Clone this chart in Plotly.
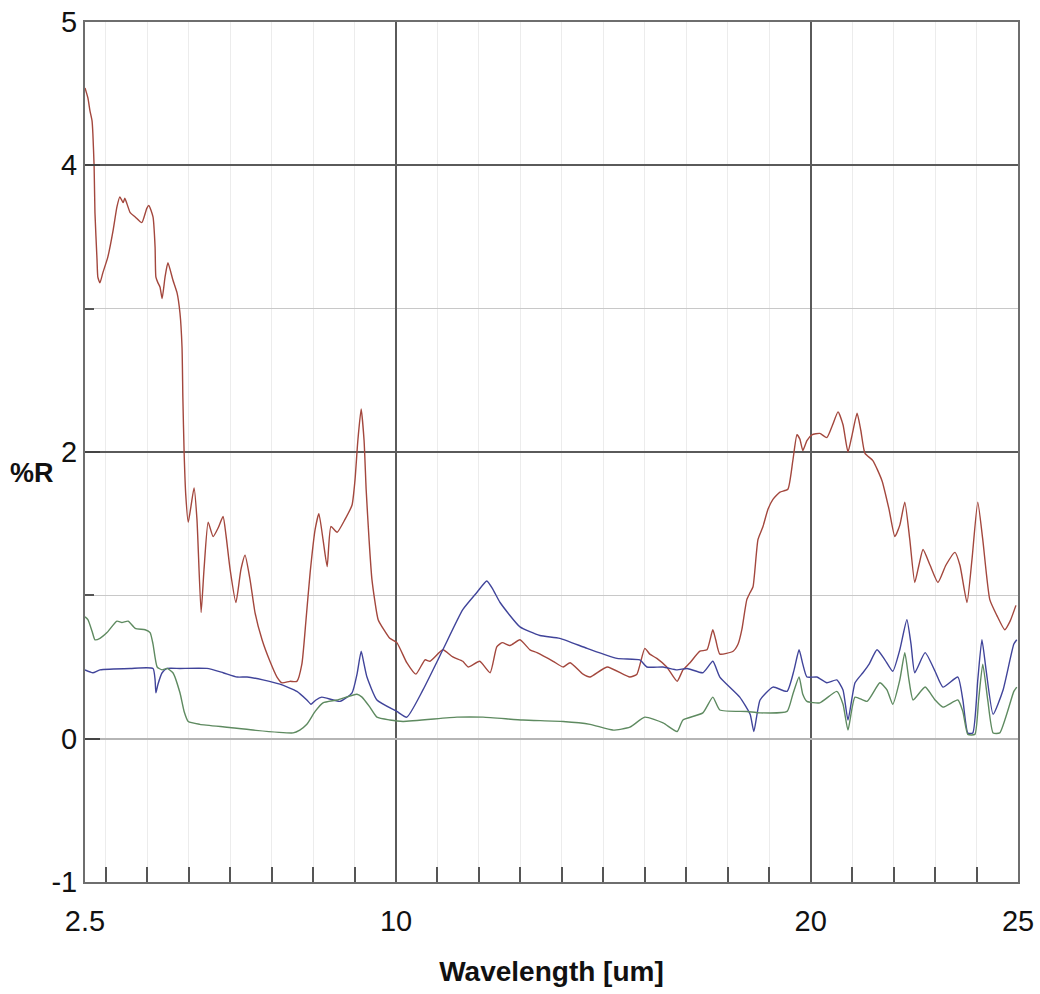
import plotly.graph_objects as go

# Reflectance spectra, wavelength in micrometres, %R
red_wl = [2.50, 2.57, 2.62, 2.67, 2.69, 2.72, 2.74, 2.79, 2.81, 2.86, 2.93, 3.05, 3.18, 3.27, 3.34, 3.42, 3.46,
          3.59, 3.71, 3.87, 3.99, 4.04, 4.14, 4.19, 4.21, 4.26, 4.31, 4.36, 4.43, 4.50, 4.62, 4.72, 4.79, 4.84,
          4.86, 4.89, 4.93, 4.99, 5.06, 5.13, 5.20, 5.30, 5.37, 5.47, 5.59, 5.71, 5.83, 5.90, 6.00, 6.14, 6.26,
          6.36, 6.48, 6.60, 6.77, 6.96, 7.13, 7.25, 7.44, 7.61, 7.73, 7.83, 7.93, 8.05, 8.14, 8.24, 8.34, 8.43,
          8.58, 8.77, 8.94, 9.01, 9.08, 9.16, 9.23, 9.28, 9.35, 9.42, 9.57, 9.73, 9.85, 10.02, 10.26, 10.48,
          10.70, 10.82, 11.13, 11.37, 11.61, 11.74, 12.02, 12.27, 12.43, 12.56, 12.75, 12.99, 13.23, 13.40,
          13.79, 14.03, 14.20, 14.51, 14.68, 15.09, 15.64, 15.81, 16.00, 16.12, 16.29, 16.53, 16.78, 16.92,
          17.09, 17.33, 17.50, 17.64, 17.71, 17.81, 18.13, 18.25, 18.34, 18.46, 18.54, 18.61, 18.73, 18.85,
          18.97, 19.09, 19.26, 19.45, 19.57, 19.67, 19.74, 19.81, 19.91, 20.03, 20.22, 20.39, 20.53, 20.66,
          20.78, 20.90, 21.00, 21.12, 21.21, 21.31, 21.50, 21.72, 21.89, 22.03, 22.15, 22.27, 22.39, 22.51,
          22.61, 22.71, 22.88, 23.07, 23.26, 23.48, 23.60, 23.77, 23.89, 24.03, 24.15, 24.32, 24.49, 24.68,
          24.81, 24.95]
red_r = [4.54, 4.47, 4.38, 4.31, 4.22, 3.99, 3.67, 3.34, 3.22, 3.18, 3.25, 3.36, 3.55, 3.71, 3.78, 3.74, 3.77,
         3.67, 3.64, 3.60, 3.70, 3.72, 3.64, 3.43, 3.22, 3.18, 3.15, 3.07, 3.22, 3.32, 3.20, 3.11, 2.97, 2.73,
         2.38, 2.00, 1.70, 1.51, 1.63, 1.75, 1.53, 0.88, 1.18, 1.51, 1.41, 1.47, 1.55, 1.42, 1.18, 0.95, 1.18,
         1.28, 1.11, 0.88, 0.69, 0.54, 0.43, 0.39, 0.40, 0.40, 0.52, 0.83, 1.16, 1.46, 1.57, 1.39, 1.20, 1.48,
         1.44, 1.53, 1.63, 1.80, 2.08, 2.30, 2.08, 1.74, 1.39, 1.11, 0.83, 0.75, 0.70, 0.67, 0.53, 0.45,
         0.55, 0.54, 0.62, 0.57, 0.54, 0.50, 0.54, 0.46, 0.64, 0.67, 0.65, 0.69, 0.62, 0.60,
         0.54, 0.50, 0.53, 0.45, 0.43, 0.50, 0.43, 0.45, 0.63, 0.59, 0.56, 0.50, 0.40, 0.48,
         0.53, 0.61, 0.62, 0.76, 0.69, 0.59, 0.61, 0.66, 0.76, 0.97, 1.02, 1.06, 1.39, 1.48,
         1.60, 1.67, 1.72, 1.74, 1.94, 2.12, 2.09, 2.01, 2.08, 2.12, 2.13, 2.10, 2.19, 2.28,
         2.19, 2.00, 2.12, 2.27, 2.15, 1.99, 1.94, 1.80, 1.60, 1.41, 1.49, 1.65, 1.39, 1.09,
         1.21, 1.32, 1.21, 1.09, 1.21, 1.30, 1.21, 0.95, 1.25, 1.65, 1.39, 0.97, 0.86, 0.76,
         0.82, 0.93]

blue_wl = [2.50, 2.69, 2.86, 3.59, 4.14, 4.19, 4.21, 4.26, 4.36, 4.48, 4.79, 5.44, 5.83, 6.17, 6.41, 6.79, 7.20,
           7.61, 7.85, 7.95, 8.07, 8.21, 8.65, 8.94, 9.06, 9.16, 9.23, 9.30, 9.54, 10.02, 10.26, 10.65, 11.13,
           11.61, 11.95, 12.19, 12.34, 12.51, 12.99, 13.47, 13.95, 14.61, 15.33, 15.88, 16.05, 16.44, 16.78,
           17.02, 17.40, 17.64, 17.81, 18.29, 18.54, 18.63, 18.78, 19.09, 19.43, 19.60, 19.72, 19.81, 19.91,
           20.15, 20.39, 20.63, 20.78, 20.90, 21.07, 21.26, 21.41, 21.60, 21.79, 21.98, 22.15, 22.32, 22.42,
           22.51, 22.76, 23.00, 23.19, 23.55, 23.67, 23.79, 23.91, 24.03, 24.13, 24.23, 24.40, 24.64, 24.90,
           24.97]
blue_r = [0.48, 0.46, 0.48, 0.49, 0.49, 0.41, 0.32, 0.38, 0.46, 0.49, 0.49, 0.49, 0.46, 0.43, 0.43, 0.41, 0.38,
          0.33, 0.27, 0.24, 0.27, 0.29, 0.26, 0.32, 0.45, 0.61, 0.52, 0.43, 0.27, 0.19, 0.15, 0.34, 0.62,
          0.90, 1.02, 1.10, 1.04, 0.95, 0.78, 0.72, 0.70, 0.63, 0.56, 0.55, 0.50, 0.50, 0.48,
          0.49, 0.46, 0.54, 0.43, 0.29, 0.17, 0.05, 0.27, 0.36, 0.33, 0.48, 0.62, 0.52, 0.43,
          0.43, 0.39, 0.41, 0.34, 0.13, 0.39, 0.46, 0.52, 0.62, 0.55, 0.47, 0.62, 0.83, 0.66,
          0.46, 0.60, 0.47, 0.36, 0.43, 0.27, 0.04, 0.04, 0.41, 0.69, 0.48, 0.17, 0.34, 0.66,
          0.69]

green_wl = [2.50, 2.57, 2.67, 2.74, 2.86, 3.03, 3.27, 3.39, 3.54, 3.71, 3.95, 4.07, 4.14, 4.24, 4.36, 4.48, 4.62,
            4.79, 4.89, 4.99, 5.27, 5.92, 6.55, 7.52, 7.68, 7.85, 8.05, 8.24, 8.58, 9.06, 9.18, 9.37, 9.54,
            9.85, 10.17, 11.47, 12.10, 13.06, 14.03, 14.68, 15.23, 15.64, 16.00, 16.44, 16.78, 16.92, 17.40,
            17.64, 17.81, 18.46, 18.78, 19.43, 19.57, 19.72, 19.81, 19.91, 20.22, 20.63, 20.78, 20.90, 21.07,
            21.36, 21.67, 21.84, 21.98, 22.15, 22.27, 22.37, 22.47, 22.76, 23.00, 23.19, 23.55, 23.67, 23.79,
            23.96, 24.05, 24.15, 24.27, 24.40, 24.56, 24.90, 24.97]
green_r = [0.85, 0.83, 0.75, 0.69, 0.70, 0.74, 0.82, 0.81, 0.82, 0.77, 0.76, 0.74, 0.66, 0.50, 0.48, 0.49, 0.46,
           0.32, 0.19, 0.12, 0.10, 0.08, 0.06, 0.04, 0.06, 0.10, 0.19, 0.25, 0.27, 0.31, 0.29, 0.22, 0.15,
           0.13, 0.12, 0.15, 0.15, 0.13, 0.12, 0.10, 0.06, 0.08, 0.15, 0.11, 0.05, 0.13, 0.18,
           0.29, 0.20, 0.19, 0.18, 0.19, 0.31, 0.43, 0.31, 0.26, 0.25, 0.33, 0.24, 0.06, 0.29,
           0.26, 0.39, 0.34, 0.24, 0.41, 0.60, 0.41, 0.27, 0.36, 0.27, 0.22, 0.27, 0.19, 0.03,
           0.03, 0.27, 0.52, 0.27, 0.04, 0.04, 0.33, 0.36]

x_tick_vals = [2.5, 10, 20, 25]
x_tick_text = ["2.5", "10", "20", "25"]
x_minor_vals = [v for v in range(3, 25) if v not in (10, 20)]
y_tick_vals = [-1, 0, 2, 4, 5]
y_tick_text = ["-1", "0", "2", "4", "5"]
y_minor_vals = [1, 3]

FONT = "Liberation Sans, Arial, Helvetica, sans-serif"

fig = go.Figure()
for wl, r, color in [(red_wl, red_r, "#a3473d"),
                     (blue_wl, blue_r, "#40449a"),
                     (green_wl, green_r, "#5e8a60")]:
    fig.add_trace(go.Scatter(x=wl, y=r, mode="lines",
                             line=dict(color=color, width=1.4, shape="spline", smoothing=0.5),
                             showlegend=False, hoverinfo="skip"))

fig.update_layout(
    width=1040, height=994,
    margin=dict(l=85, r=22, t=22, b=112),
    paper_bgcolor="white", plot_bgcolor="white",
    font=dict(family=FONT, size=29, color="#111111"),
)

fig.update_xaxes(
    range=[2.5, 25], tickmode="array", tickvals=x_tick_vals, ticktext=x_tick_text,
    ticks="", showgrid=True, gridcolor="#5a5a5a", gridwidth=1.5,
    showline=True, linecolor="#6e6e6e", linewidth=2, mirror=True, zeroline=False,
    automargin=False, ticklabelstandoff=12,
    minor=dict(tickmode="array", tickvals=x_minor_vals, ticks="inside", ticklen=15,
               tickcolor="#555555", tickwidth=1.5, showgrid=True, gridcolor="#ececec", gridwidth=1),
    title=dict(text="<b>Wavelength [um]</b>", font=dict(family=FONT, size=28, color="#111111"), standoff=26),
)

fig.update_yaxes(
    range=[-1, 5], tickmode="array", tickvals=y_tick_vals, ticktext=y_tick_text,
    ticks="inside", ticklen=15, tickcolor="#444444", tickwidth=2,
    showgrid=True, gridcolor="#5a5a5a", gridwidth=1.5,
    showline=True, linecolor="#6e6e6e", linewidth=2, mirror=True,
    zeroline=True, zerolinecolor="#b5b5b5", zerolinewidth=2,
    automargin=False, ticklabelstandoff=0,
    minor=dict(tickmode="array", tickvals=y_minor_vals, ticks="inside", ticklen=9,
               tickcolor="#555555", tickwidth=1.5, showgrid=True, gridcolor="#c8c8c8", gridwidth=1),
)

fig.add_annotation(text="<b>%R</b>", xref="paper", yref="paper", x=-0.057, y=0.4756,
                   xanchor="center", yanchor="middle", showarrow=False,
                   font=dict(family=FONT, size=27, color="#111111"))

fig.write_html("out.html")
